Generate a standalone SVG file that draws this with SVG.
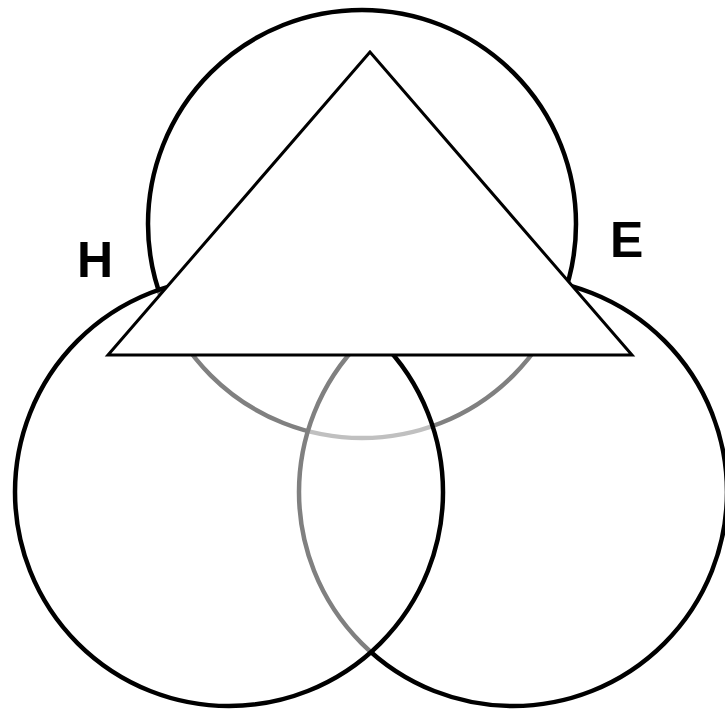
<svg xmlns="http://www.w3.org/2000/svg" width="725" height="711" viewBox="0 0 725 711">
<style>
.c{fill:#fff;fill-opacity:0.5;stroke:#000;stroke-width:4.5}
.t{fill:#fff;stroke:#000;stroke-width:3;stroke-linejoin:miter}
.l{font-family:"Liberation Sans",Arial,sans-serif;font-weight:bold;font-size:50px;fill:#000}
</style>
<rect width="725" height="711" fill="#fff"/>
<g id="circle-top"><circle class="c" cx="362" cy="224" r="214"/></g>
<g id="circle-right"><circle class="c" cx="513" cy="492" r="214"/></g>
<g id="circle-left"><circle class="c" cx="229" cy="492" r="214"/></g>
<g id="triangle"><polygon class="t" points="370,52 108,355 632,355"/></g>
<g id="label-h"><text class="l" x="77" y="277">H</text></g>
<g id="label-e"><text class="l" x="610" y="257">E</text></g>
</svg>
